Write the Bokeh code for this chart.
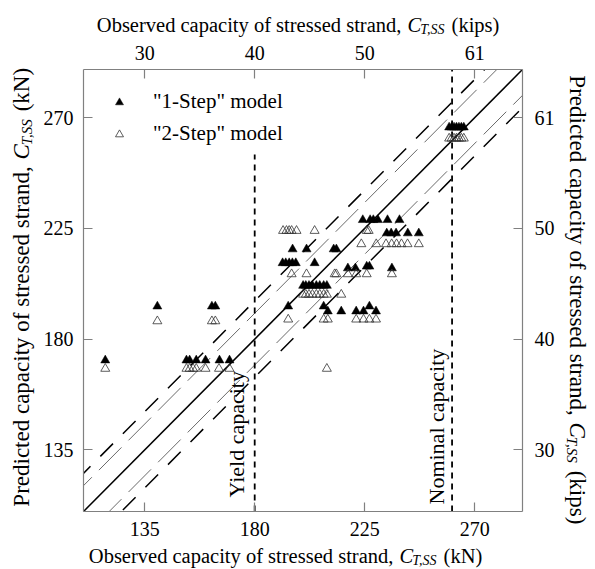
import math
from bokeh.plotting import figure
from bokeh.layouts import column
from bokeh.models import Range1d, LinearAxis, FixedTicker, Label, Legend, LegendItem
from bokeh.embed import file_html
from bokeh.resources import INLINE

# ---------------- data (kN) ----------------
one_step_obs = [118.9, 140.2, 162.5, 163.9,
                152.1, 153.4, 156.1, 159.9, 165.6, 169.7,
                195.5, 201.2, 212.3, 213.4,
                191.4, 192.7, 194.1, 195.4, 196.8, 204.5,
                218.1, 221.2, 225.8, 226.9, 236.1,
                224.2, 227.2, 228.5, 230.4, 234.3, 239.2,
                234.0, 235.8, 237.8, 242.6, 247.1,
                199.8, 200.9, 202.2, 203.6, 205.2, 206.6, 208.2, 209.5,
                193.7, 208.2, 209.9, 215.4,
                221.5, 224.5, 226.9, 229.6,
                259.5, 260.5, 261.5, 262.5, 263.5, 264.5, 265.5]
one_step_pred = [171.4, 193.3, 193.3, 193.3,
                 171.4, 171.4, 171.4, 171.4, 171.4, 171.4,
                 216.5, 216.5, 216.5, 216.5,
                 210.9, 210.9, 210.9, 210.9, 210.9, 210.9,
                 208.8, 208.8, 209.5, 209.5, 208.8,
                 228.4, 228.4, 228.4, 228.4, 228.4, 228.4,
                 223.0, 223.0, 223.0, 223.0, 223.0,
                 201.7, 201.7, 201.7, 201.7, 201.7, 201.7, 201.7, 201.7,
                 193.3, 193.3, 191.3, 191.3,
                 191.3, 191.3, 193.3, 191.3,
                 266.0, 266.0, 266.0, 266.0, 266.0, 266.0, 266.0]

two_step_obs = [118.9, 140.2, 162.5, 163.9,
                152.1, 153.4, 154.8, 156.1, 159.9, 165.4, 169.7,
                209.5,
                191.6, 193.0, 194.1, 195.1, 197.1, 204.5, 225.8, 226.6,
                223.6, 229.7, 233.7, 236.0, 238.0, 240.0, 242.5, 247.1,
                195.1, 201.2, 212.7, 213.4, 218.1, 221.5, 225.8, 236.1,
                199.8, 200.9, 202.2, 203.6, 205.2, 206.6, 208.2, 209.5, 215.4,
                193.7, 208.2, 209.9, 221.5, 224.5, 226.9, 229.6,
                259.5, 260.5, 261.5, 262.5, 263.5, 264.5, 265.5]
two_step_pred = [168.0, 187.3, 187.3, 187.3,
                 168.0, 168.0, 168.0, 168.0, 168.0, 168.0, 168.0,
                 168.0,
                 224.0, 224.0, 224.0, 224.0, 224.0, 224.0, 224.0, 224.0,
                 218.6, 218.6, 218.6, 218.6, 218.6, 218.6, 218.6, 218.6,
                 206.4, 206.4, 206.4, 206.4, 206.4, 206.4, 206.4, 206.4,
                 198.1, 198.1, 198.1, 198.1, 198.1, 198.1, 198.1, 198.1, 198.1,
                 188.0, 188.0, 188.0, 188.0, 188.0, 188.0, 188.0,
                 261.5, 261.5, 261.5, 261.5, 261.5, 261.5, 261.5]

kn_ticks = [135, 180, 225, 270]
kips_labels = ["30", "40", "50", "61"]
axis_min, axis_max = 110.0, 289.5
yield_capacity = 180.0
yield_line_top = 255.0
nominal_capacity = 260.7
inner_band = 10.5   # kN, thin dashed lines
outer_band = 15.5   # kN, long dashed lines

FONT = "Liberation Serif"
W, H = 595, 569

p = figure(width=W, height=H, frame_width=439, frame_height=442,
           x_range=Range1d(axis_min, axis_max), y_range=Range1d(axis_min, axis_max),
           output_backend="svg", toolbar_location=None,
           min_border_left=83, min_border_right=73, min_border_top=69, min_border_bottom=58)
p.outline_line_color = None
p.xgrid.visible = False
p.ygrid.visible = False
p.background_fill_color = "white"
p.border_fill_color = "white"

bottom_axis = p.below[0]
left_axis = p.left[0]
top_axis = LinearAxis()
right_axis = LinearAxis()
p.add_layout(top_axis, "above")
p.add_layout(right_axis, "right")

overrides = {t: lab for t, lab in zip(kn_ticks, kips_labels)}
for ax in [bottom_axis, left_axis, top_axis, right_axis]:
    ax.ticker = FixedTicker(ticks=kn_ticks)
    ax.major_tick_in = 9
    ax.major_tick_out = 0
    ax.minor_tick_in = 0
    ax.minor_tick_out = 0
    ax.axis_line_color = "#808080"
    ax.axis_line_width = 1.2
    ax.major_tick_line_color = "#808080"
    ax.major_tick_line_width = 1.2
    ax.major_label_text_font = FONT
    ax.major_label_text_font_size = "20px"
    ax.major_label_text_color = "black"
    ax.major_label_standoff = 10
top_axis.major_label_overrides = overrides
right_axis.major_label_overrides = overrides
right_axis.major_label_standoff = 12

# reference lines
xs = [axis_min - 30, axis_max + 30]
p.line(xs, [v - outer_band for v in xs], line_color="black", line_width=1.5, line_dash="18 14")
p.line(xs, [v + outer_band for v in xs], line_color="black", line_width=1.5, line_dash="18 14")
p.line(xs, [v - inner_band for v in xs], line_color="#444444", line_width=0.8, line_dash="32 10")
p.line(xs, [v + inner_band for v in xs], line_color="#444444", line_width=0.8, line_dash="32 10")
p.line(xs, xs, line_color="black", line_width=1.5)

p.segment(x0=[yield_capacity, nominal_capacity], y0=[axis_min, axis_min],
          x1=[yield_capacity, nominal_capacity], y1=[yield_line_top, axis_max],
          line_color="black", line_width=1.8, line_dash="6 5")

r1 = p.scatter(one_step_obs, one_step_pred, marker="triangle", size=9,
               fill_color="black", line_color="black", line_width=0.5)
r2 = p.scatter(two_step_obs, two_step_pred, marker="triangle", size=9,
               fill_alpha=0, line_color="#333333", line_width=0.8)

legend = Legend(items=[LegendItem(label='"1-Step" model', renderers=[r1]),
                       LegendItem(label='"2-Step" model', renderers=[r2])],
                location=(26, 365), border_line_color=None, background_fill_alpha=0,
                padding=5, spacing=7, glyph_width=20, glyph_height=20, label_height=20,
                label_standoff=24, margin=0,
                label_text_font=FONT, label_text_font_size="21px", label_text_color="black")
p.add_layout(legend)

p.add_layout(Label(x=153, y=14, x_units="screen", y_units="screen", text="Yield capacity",
                   angle=math.pi / 2, text_align="left", text_baseline="alphabetic",
                   text_font=FONT, text_font_size="22px", text_color="black"))
p.add_layout(Label(x=353, y=7, x_units="screen", y_units="screen", text="Nominal capacity",
                   angle=math.pi / 2, text_align="left", text_baseline="alphabetic",
                   text_font=FONT, text_font_size="22px", text_color="black"))

# ---------------- transparent overlay carrying the axis titles ----------------
t = figure(width=W, height=H, x_range=Range1d(0, W), y_range=Range1d(0, H),
           output_backend="svg", toolbar_location=None,
           x_axis_type=None, y_axis_type=None, min_border=0,
           min_border_left=0, min_border_right=0, min_border_top=0, min_border_bottom=0,
           styles={"position": "absolute", "left": "0px", "top": "0px"})
for fig in (p, t):
    try:
        fig.frame_align = False
    except Exception:
        pass
t.outline_line_color = None
t.background_fill_alpha = 0
t.border_fill_alpha = 0
t.xgrid.visible = False
t.ygrid.visible = False

def txt(x, y, s, angle=0.0, align="left", size=20.5, style="normal"):
    t.add_layout(Label(x=x, y=y, x_units="screen", y_units="screen", text=s,
                       angle=angle, text_align=align, text_baseline="alphabetic",
                       text_font=FONT, text_font_size=f"{size}px", text_font_style=style,
                       text_color="black"))

def title(prefix, suffix, x, y, angle, size=20.5, sub_size=14, sub_shift=5):
    d = (math.cos(angle), math.sin(angle))
    down = (math.sin(angle), -math.cos(angle))
    wc = 0.667 * size
    ws = 1.806 * sub_size
    gap = 0.25 * size
    txt(x, y, prefix, angle, "right", size)
    txt(x + d[0] * 1, y + d[1] * 1, "C", angle, "left", size, "italic")
    txt(x + d[0] * wc + down[0] * sub_shift, y + d[1] * wc + down[1] * sub_shift,
        "T,SS", angle, "left", sub_size, "italic")
    k = wc + ws + 1 + gap
    txt(x + d[0] * k, y + d[1] * k, suffix, angle, "left", size)

title("Observed capacity of stressed strand, ", "(kN)", 398, 14, 0.0)
title("Observed capacity of stressed strand, ", "(kips)", 406, 545, 0.0)
title("Predicted capacity of stressed strand, ", "(kN)", 21, 409, math.pi / 2,
      size=23, sub_size=15, sub_shift=5.5)
title("Predicted capacity of stressed strand, ", "(kips)", 577, 148, -math.pi / 2,
      size=23, sub_size=15, sub_shift=5.5)

root = column(p, t)
open("out.html", "w").write(file_html(root, INLINE))
